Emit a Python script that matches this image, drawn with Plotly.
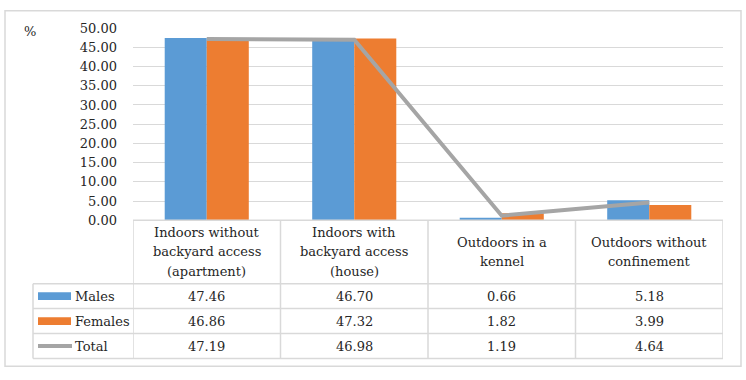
import plotly.graph_objects as go

categories = ["Indoors without<br>backyard access<br>(apartment)",
              "Indoors with<br>backyard access<br>(house)",
              "Outdoors in a<br>kennel",
              "Outdoors without<br>confinement"]
males = [47.46, 46.70, 0.66, 5.18]
females = [46.86, 47.32, 1.82, 3.99]
total = [47.19, 46.98, 1.19, 4.64]
series_names = ["Males", "Females", "Total"]
y_ticks = [0, 5, 10, 15, 20, 25, 30, 35, 40, 45, 50]

W, H = 746, 380
FONT = "DejaVu Serif"
FS = 13
TXT = "#262626"
GRID = "#D9D9D9"
BLUE, ORANGE, GRAY = "#5B9BD5", "#ED7D31", "#A5A5A5"

# plot area in pixels
PX0, PX1 = 133, 723
PY_TOP, PY_BOT = 22, 222
def py(p):
    return 1 - p / H

fig = go.Figure()
fig.add_bar(x=categories, y=males, name=series_names[0], marker_color=BLUE, marker_line_width=0)
fig.add_bar(x=categories, y=females, name=series_names[1], marker_color=ORANGE, marker_line_width=0)
fig.add_scatter(x=categories, y=total, name=series_names[2], mode="lines",
                line=dict(color=GRAY, width=4))

fig.update_layout(
    width=W, height=H, margin=dict(l=0, r=0, t=0, b=0),
    paper_bgcolor="white", plot_bgcolor="white",
    showlegend=False, barmode="group", bargap=0.43, bargroupgap=0,
    font=dict(family=FONT, size=FS, color=TXT),
    hovermode=False,
)
fig.update_xaxes(domain=[PX0 / W, PX1 / W], type="category", showticklabels=False,
                 showgrid=False, zeroline=False, showline=False, range=[-0.5, 3.5])
fig.update_yaxes(domain=[py(PY_BOT), py(PY_TOP)], range=[0, 50], tickvals=y_ticks,
                 tickformat=".2f", showgrid=True, gridcolor=GRID, gridwidth=1,
                 zeroline=False, showline=False, ticks="", ticklabelstandoff=15,
                 tickfont=dict(family=FONT, size=FS, color=TXT))

shapes = []
ann = []
# outer border
shapes.append(dict(type="rect", xref="paper", yref="paper", x0=5 / W, x1=741 / W,
                   y0=py(374), y1=py(4), line=dict(color=GRID, width=1.5)))
# table horizontal lines
row_edges = [288, 314, 340, 366]
shapes.append(dict(type="line", xref="paper", yref="paper", x0=PX0 / W, x1=PX1 / W,
                   y0=py(PY_BOT), y1=py(PY_BOT), line=dict(color=GRID, width=1.5)))
for r in row_edges:
    shapes.append(dict(type="line", xref="paper", yref="paper", x0=33 / W, x1=PX1 / W,
                       y0=py(r), y1=py(r), line=dict(color=GRID, width=1.5)))
# vertical lines
for i in range(len(categories) + 1):
    shapes.append(dict(type="line", xref="x", yref="paper", x0=i - 0.5, x1=i - 0.5,
                       y0=py(366), y1=py(PY_BOT), line=dict(color=GRID, width=1.5)))
shapes.append(dict(type="line", xref="paper", yref="paper", x0=33 / W, x1=33 / W,
                   y0=py(366), y1=py(288), line=dict(color=GRID, width=1.5)))

# header text
for i, c in enumerate(categories):
    lines = c.split("<br>")
    n = len(lines)
    for k, ln in enumerate(lines):
        yc = 255 + (k - (n - 1) / 2) * 20
        ann.append(dict(xref="x", yref="paper", x=i, y=py(yc), text=ln, showarrow=False,
                        xanchor="center", yanchor="middle"))

# rows
row_centers = [301, 327, 353]
colors = [BLUE, ORANGE, GRAY]
for name, vals, yc, col in zip(series_names, [males, females, total], row_centers, colors):
    if name == "Total":
        shapes.append(dict(type="line", xref="paper", yref="paper", x0=38 / W, x1=72 / W,
                           y0=py(yc), y1=py(yc), line=dict(color=col, width=4)))
    else:
        shapes.append(dict(type="rect", xref="paper", yref="paper", x0=38 / W, x1=71 / W,
                           y0=py(yc + 4), y1=py(yc - 4), fillcolor=col, line=dict(width=0)))
    ann.append(dict(xref="paper", yref="paper", x=73 / W, y=py(yc), text=name, showarrow=False,
                    xanchor="left", yanchor="middle"))
    for i, v in enumerate(vals):
        ann.append(dict(xref="x", yref="paper", x=i, y=py(yc), text=f"{v:.2f}", showarrow=False,
                        xanchor="center", yanchor="middle"))

ann.append(dict(xref="paper", yref="paper", x=22 / W, y=py(25), text="%", showarrow=False,
                xanchor="left", yanchor="middle"))

fig.update_layout(shapes=shapes, annotations=ann)
fig.write_html("out.html", config={"displayModeBar": False},
               post_script="document.body.style.margin='0';document.body.style.padding='0';")
